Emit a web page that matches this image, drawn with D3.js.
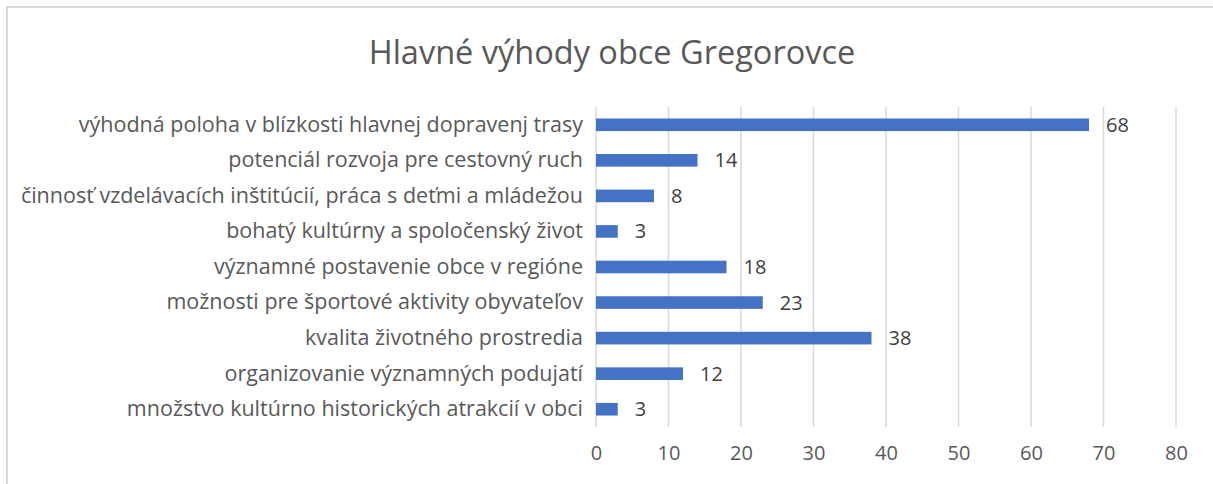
<!DOCTYPE html>
<html>
<head>
<meta charset="utf-8">
<script src="https://cdn.jsdelivr.net/npm/d3@7"></script>
<style>
  body { margin: 0; background: #fff; }
  svg { display: block; font-family: "Open Sans", sans-serif; }
</style>
</head>
<body>
<svg id="chart" width="1213" height="484"></svg>
<script>
const title = "Hlavné výhody obce Gregorovce";
const categories = [
	"výhodná poloha v blízkosti hlavnej dopravenj trasy",
	"potenciál rozvoja pre cestovný ruch",
	"činnosť vzdelávacích inštitúcií, práca s deťmi a mládežou",
	"bohatý kultúrny a spoločenský život",
	"významné postavenie obce v regióne",
	"možnosti pre športové aktivity obyvateľov",
	"kvalita životného prostredia",
	"organizovanie významných podujatí",
	"množstvo kultúrno historických atrakcií v obci"
];
const values = [68, 14, 8, 3, 18, 23, 38, 12, 3];
const xTicks = [0, 10, 20, 30, 40, 50, 60, 70, 80];

const svg = d3.select("#chart");
const margin = { top: 107, right: 37, bottom: 57, left: 596 };
const width = 1213 - margin.left - margin.right;
const height = 484 - margin.top - margin.bottom;
const font = "'Open Sans', sans-serif";

// chart border (cut off at right and bottom like the screenshot)
svg.append("path")
	.attr("d", "M7,490 L7,7 L1220,7")
	.attr("fill", "none")
	.attr("stroke", "#d9d9d9")
	.attr("stroke-width", 2);

svg.append("text")
	.attr("x", 612)
	.attr("y", 64)
	.attr("text-anchor", "middle")
	.attr("fill", "#595959")
	.attr("font-size", 32.5)
	.text(title);

const g = svg.append("g")
	.attr("transform", `translate(${margin.left}, ${margin.top})`);

const x = d3.scaleLinear().domain([0, 80]).range([0, width]);
const y = d3.scaleBand()
	.domain(categories)
	.range([0, height])
	.paddingInner(0.645)
	.paddingOuter(0.3225);

// gridlines
g.selectAll(".grid")
	.data(xTicks)
	.join("line")
	.attr("x1", d => x(d))
	.attr("x2", d => x(d))
	.attr("y1", 0)
	.attr("y2", height)
	.attr("stroke", "#d9d9d9")
	.attr("stroke-width", 1.5);

// x axis labels
const xAxis = g.append("g")
	.attr("transform", `translate(0, ${height})`)
	.call(d3.axisBottom(x).tickValues(xTicks).tickSize(0).tickPadding(19));
xAxis.select(".domain").remove();
xAxis.selectAll("text")
	.attr("fill", "#595959")
	.attr("font-size", 20)
	.attr("font-family", font);

// category labels
const yAxis = g.append("g")
	.call(d3.axisLeft(y).tickSize(0).tickPadding(13));
yAxis.select(".domain").remove();
yAxis.selectAll("text")
	.attr("fill", "#595959")
	.attr("font-size", 21.5)
	.attr("font-family", font);

// bars
g.selectAll(".bar")
	.data(values)
	.join("rect")
	.attr("x", 0)
	.attr("y", (d, i) => y(categories[i]))
	.attr("width", d => x(d))
	.attr("height", y.bandwidth())
	.attr("fill", "#4472c4");

// value labels
g.selectAll(".val")
	.data(values)
	.join("text")
	.attr("x", d => x(d) + 17)
	.attr("y", (d, i) => y(categories[i]) + y.bandwidth() / 2)
	.attr("dy", "0.35em")
	.attr("fill", "#404040")
	.attr("font-size", 20)
	.text(d => d);
</script>
</body>
</html>
